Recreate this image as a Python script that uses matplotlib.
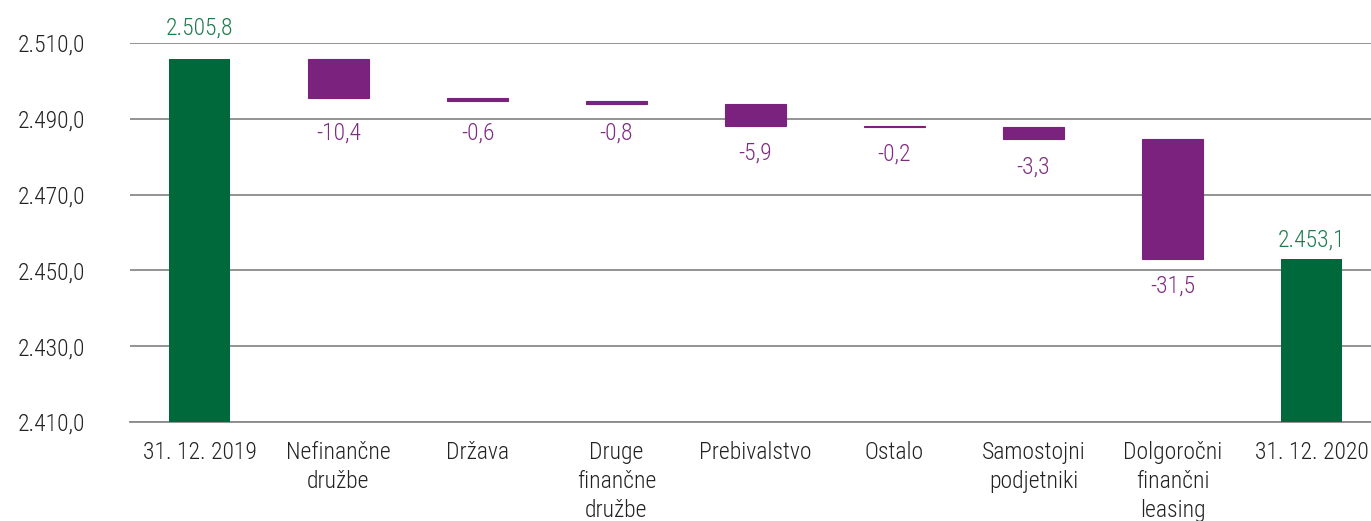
import matplotlib.pyplot as plt
import numpy as np

plt.rcParams['font.family'] = ['Roboto Condensed', 'Liberation Sans Narrow', 'Roboto', 'DejaVu Sans']
plt.rcParams['font.weight'] = 'light'

# data
categories = ['31. 12. 2019', 'Nefinančne\ndružbe', 'Država', 'Druge\nfinančne\ndružbe',
              'Prebivalstvo', 'Ostalo', 'Samostojni\npodjetniki', 'Dolgoročni\nfinančni\nleasing',
              '31. 12. 2020']
start_value = 2505.8
changes = [-10.4, -0.6, -0.8, -5.9, -0.2, -3.3, -31.5]
end_value = 2453.1
y_ticks = [2410.0, 2430.0, 2450.0, 2470.0, 2490.0, 2510.0]

green = '#00693C'
purple = '#7B217E'
fs = 17
DPI = 100
AX_H_PX = 379


def fmt(v):
    # slovenian format: dot for thousands, comma for decimals
    s = f'{v:,.1f}'
    return s.replace(',', 'X').replace('.', ',').replace('X', '.')


def label_gap(anchor, direction, gap, digit_h=17, margin=6, push=8):
    # gap (px) from the bar end to the label; pushed past a gridline if the digits would cross it
    ppu = AX_H_PX / (y_ticks[-1] - y_ticks[0])
    for g in y_ticks:
        dist = (anchor - g) * ppu if direction < 0 else (g - anchor) * ppu
        if gap - margin < dist < gap + digit_h + margin:
            gap = dist + push
    return gap


fig = plt.figure(figsize=(13.71, 5.21), dpi=DPI)
ax = fig.add_axes([130 / 1371, 99 / 521, 1251 / 1371, AX_H_PX / 521])

x = np.arange(len(categories))
width = 0.44
ymin = y_ticks[0]
pt = 72 / DPI

# total bars
ax.bar(x[0], start_value - ymin, bottom=ymin, width=width, color=green, zorder=3)
ax.bar(x[-1], end_value - ymin, bottom=ymin, width=width, color=green, zorder=3)
for xi, v in [(x[0], start_value), (x[-1], end_value)]:
    g = label_gap(v, 1, 12)
    ax.annotate(fmt(v), (xi, v), xytext=(0, g * pt), textcoords='offset points',
                ha='center', va='baseline', fontsize=fs, color='#1E7B4E')

# change bars
level = start_value
for i, d in enumerate(changes):
    xi = x[i + 1]
    ax.bar(xi, d, bottom=level, width=width, color=purple, edgecolor=purple,
           linewidth=0.8, zorder=3)
    low = min(level, level + d)
    g = label_gap(low, -1, 21)
    ax.annotate(fmt(d), (xi, low), xytext=(0, -(g - 5) * pt), textcoords='offset points',
                ha='center', va='top', fontsize=fs, color='#7E2B82')
    level += d

ax.set_xlim(-0.5, len(categories) - 0.5)
ax.set_ylim(ymin, y_ticks[-1])
ax.set_yticks(y_ticks)
ax.set_yticklabels([fmt(t) for t in y_ticks])
ax.set_xticks(x)
ax.set_xticklabels(categories, linespacing=1.33)
ax.yaxis.grid(True, color='#8a8a8a', linewidth=1.3, zorder=0)
ax.set_axisbelow(True)

for side in ['top', 'right', 'left']:
    ax.spines[side].set_visible(False)
ax.spines['bottom'].set_color('#8a8a8a')
ax.spines['bottom'].set_linewidth(1.3)
ax.tick_params(axis='both', length=0, labelsize=fs, colors='#222222')
ax.tick_params(axis='x', pad=14)
ax.tick_params(axis='y', pad=32)

fig.savefig('out.png', dpi=DPI)
